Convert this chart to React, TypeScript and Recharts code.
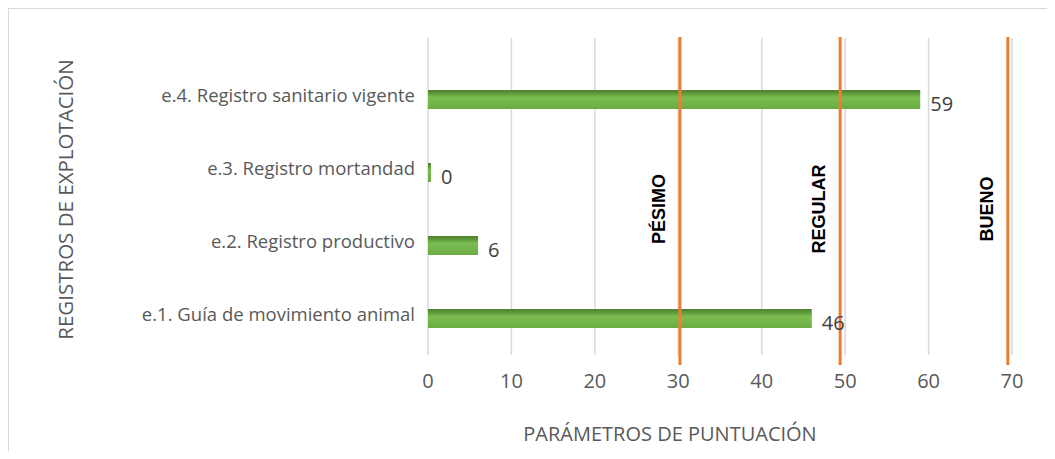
import {
    BarChart,
    Bar,
    XAxis,
    YAxis,
    CartesianGrid,
    ReferenceLine,
    LabelList,
} from 'recharts';

const categories = [
    'e.4. Registro sanitario vigente',
    'e.3. Registro mortandad',
    'e.2. Registro productivo',
    'e.1. Guía de movimiento animal',
];
const scores = [59, 0, 6, 46];
const xTicks = [0, 10, 20, 30, 40, 50, 60, 70];
const levelNames = ['PÉSIMO', 'REGULAR', 'BUENO'];
const levelValues = [30.2, 49.4, 69.5];

const FONT = '"Open Sans", "Liberation Sans", sans-serif';
const TEXT = '#595959';
const ORANGE = '#ED7D31';

const data = categories.map((name, i) => ({ name, value: scores[i] }));

function levelShape(label: string) {
    return (props: any) => {
        const x = props.x1;
        const top = Math.min(props.y1, props.y2) - 1;
        const bottom = Math.max(props.y1, props.y2) + 10;
        const cy = 200;
        const tx = x - 21;
        return (
            <g>
                <line x1={x} x2={x} y1={top} y2={bottom} stroke={ORANGE} strokeWidth={3} />
                <text
                    x={tx}
                    y={cy}
                    transform={`rotate(-90, ${tx}, ${cy})`}
                    textAnchor="middle"
                    dominantBaseline="central"
                    fontFamily='"Liberation Sans", Arial, sans-serif'
                    fontWeight="bold"
                    fontSize={18}
                    fill="#000000"
                >
                    {label}
                </text>
            </g>
        );
    };
}

const YTitle = ({ viewBox }: any) => {
    const x = viewBox.x + 37;
    const y = viewBox.y + viewBox.height / 2 + 3;
    return (
        <text
            x={x}
            y={y}
            transform={`rotate(-90, ${x}, ${y})`}
            textAnchor="middle"
            dominantBaseline="central"
            fontFamily={FONT}
            fontSize={20.5}
            fill={TEXT}
        >
            REGISTROS DE EXPLOTACIÓN
        </text>
    );
};

const XTitle = ({ viewBox }: any) => (
    <text
        x={viewBox.x + viewBox.width / 2 - 50}
        y={424}
        textAnchor="middle"
        dominantBaseline="central"
        fontFamily={FONT}
        fontSize={20}
        fill={TEXT}
    >
        PARÁMETROS DE PUNTUACIÓN
    </text>
);

export default function App() {
    return (
        <div
            style={{
                width: 1046,
                height: 442,
                borderTop: '1px solid #d9d9d9',
                borderLeft: '1px solid #d9d9d9',
                background: '#ffffff',
            }}
        >
            <BarChart
                width={1046}
                height={441}
                data={data}
                layout="vertical"
                margin={{ top: 29, right: 43, bottom: 65, left: 19 }}
            >
                <defs>
                    <linearGradient id="barFill" x1="0" y1="0" x2="0" y2="1">
                        <stop offset="0%" stopColor="#4f7f30" />
                        <stop offset="18%" stopColor="#5e9a3a" />
                        <stop offset="40%" stopColor="#7cbd52" />
                        <stop offset="100%" stopColor="#6aab43" />
                    </linearGradient>
                </defs>
                <CartesianGrid horizontal={false} stroke="#d9d9d9" strokeWidth={1.5} />
                <XAxis
                    type="number"
                    domain={[0, 70]}
                    ticks={xTicks}
                    axisLine={false}
                    tickLine={false}
                    tickSize={0}
                    tickMargin={19}
                    tick={{ fill: TEXT, fontSize: 20, fontFamily: FONT }}
                    label={<XTitle />}
                />
                <YAxis
                    type="category"
                    dataKey="name"
                    width={400}
                    axisLine={false}
                    tickLine={false}
                    tickSize={0}
                    tickMargin={13}
                    padding={{ top: 25, bottom: 0 }}
                    tick={{ fill: TEXT, fontSize: 18.5, fontFamily: FONT, dy: -4 }}
                    label={<YTitle />}
                />
                <Bar
                    dataKey="value"
                    fill="url(#barFill)"
                    barSize={19}
                    minPointSize={3}
                    isAnimationActive={false}
                >
                    <LabelList
                        dataKey="value"
                        position="right"
                        offset={10}
                        dy={4}
                        fill="#404040"
                        fontSize={20}
                        fontFamily={FONT}
                    />
                </Bar>
                {levelValues.map((v, i) => (
                    <ReferenceLine
                        key={levelNames[i]}
                        x={v}
                        ifOverflow="visible"
                        shape={levelShape(levelNames[i])}
                    />
                ))}
            </BarChart>
        </div>
    );
}
